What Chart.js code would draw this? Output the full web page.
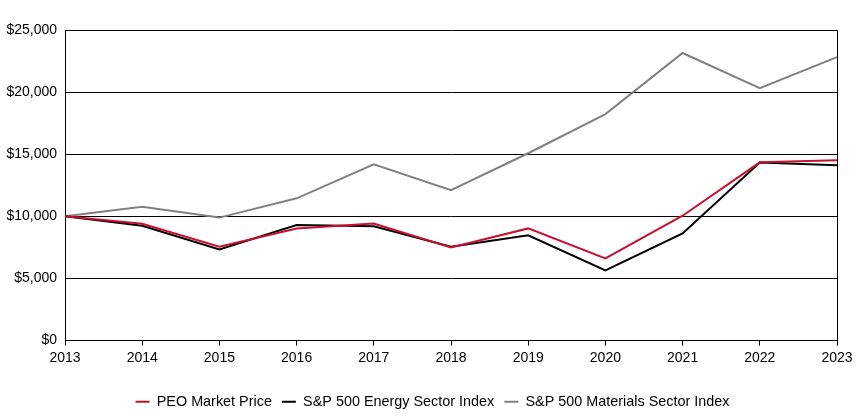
<!DOCTYPE html>
<html>
<head>
<meta charset="utf-8">
<script src="https://cdn.jsdelivr.net/npm/chart.js@4"></script>
<style>
  html, body { margin: 0; padding: 0; background: #fff; }
  #wrap { width: 858px; height: 420px; }
</style>
</head>
<body>
<div id="wrap"><canvas id="chart"></canvas></div>
<script>
// Chart data
const years = ['2013', '2014', '2015', '2016', '2017', '2018', '2019', '2020', '2021', '2022', '2023'];
const peoMarketPrice = [10000, 9400, 7550, 9030, 9430, 7500, 9030, 6610, 10050, 14350, 14520];
const energyIndex = [10000, 9250, 7340, 9300, 9200, 7560, 8470, 5650, 8630, 14330, 14110];
const materialsIndex = [10000, 10780, 9900, 11450, 14190, 12100, 15080, 18230, 23150, 20320, 22820];
const yTicks = [0, 5000, 10000, 15000, 20000, 25000];

const lastIndex = years.length - 1;
const FONT = 'Liberation Sans, Arial, sans-serif';

function money(v) {
  return '$' + v.toLocaleString('en-US');
}

// nudge the legend a little right, it is centred under the plot in the original
const legendShift = {
  id: 'legendShift',
  afterLayout(chart) {
    if (chart.legend) {
      chart.legend.left += 11;
      chart.legend.right += 11;
    }
  },
};

const ctx = document.getElementById('chart').getContext('2d');
new Chart(ctx, {
  type: 'line',
  data: {
    labels: years,
    datasets: [
      { label: 'PEO Market Price', data: peoMarketPrice, borderColor: '#c8102e', backgroundColor: '#c8102e', borderWidth: 2 },
      { label: 'S&P 500 Energy Sector Index', data: energyIndex, borderColor: '#000000', backgroundColor: '#000000', borderWidth: 2 },
      { label: 'S&P 500 Materials Sector Index', data: materialsIndex, borderColor: '#808080', backgroundColor: '#808080', borderWidth: 2 },
    ],
  },
  plugins: [legendShift],
  options: {
    responsive: true,
    maintainAspectRatio: false,
    animation: false,
    elements: { point: { radius: 0 }, line: { tension: 0 } },
    layout: { padding: { left: 6, right: 21, top: 30, bottom: 1 } },
    plugins: {
      legend: {
        position: 'bottom',
        labels: {
          color: '#000',
          font: { family: FONT, size: 14.4 },
          usePointStyle: true,
          pointStyle: 'line',
          pointStyleWidth: 14,
          padding: 10,
        },
      },
      tooltip: { enabled: false },
    },
    scales: {
      x: {
        offset: false,
        grid: {
          color: (c) => (c.index === lastIndex ? '#000' : 'rgba(0,0,0,0)'),
          tickColor: '#000',
          tickLength: 5,
          lineWidth: 1,
        },
        border: { color: '#000', width: 1 },
        ticks: { color: '#000', padding: 4, maxRotation: 0, font: { family: FONT, size: 14 } },
        afterFit: (s) => { s.height = 44; },
      },
      y: {
        min: 0,
        max: 25000,
        afterBuildTicks: (s) => { s.ticks = yTicks.map((v) => ({ value: v })); },
        grid: { color: '#000', drawTicks: false, lineWidth: 1 },
        border: { color: '#000', width: 1 },
        ticks: {
          color: '#000',
          padding: 8,
          font: { family: FONT, size: 14 },
          callback: (v) => money(v),
        },
        afterFit: (s) => { s.width = 59; },
      },
    },
  },
});
</script>
</body>
</html>
